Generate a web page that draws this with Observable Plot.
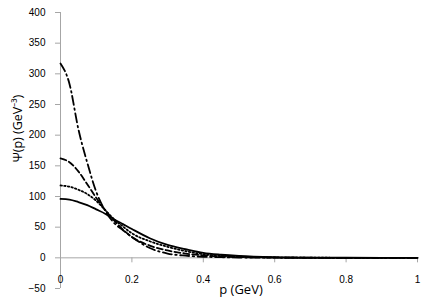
<!DOCTYPE html>
<html>
<head>
<meta charset="utf-8">
<script src="https://cdn.jsdelivr.net/npm/d3@7"></script>
<script src="https://cdn.jsdelivr.net/npm/@observablehq/plot@0.6"></script>
<style>
  html, body { margin: 0; padding: 0; background: #fff; }
  #chart svg { display: block; }
</style>
</head>
<body>
<div id="chart"></div>
<script>
const p = [0, 0.025, 0.05, 0.075, 0.1, 0.125, 0.15, 0.175, 0.2, 0.25, 0.3, 0.35, 0.4, 0.45, 0.5, 0.6, 0.7, 0.8, 0.9, 1.0];
const solid   = [96, 95, 91, 86, 79, 72, 63, 55, 47, 32, 21, 14, 8, 5, 3, 1, 0.3, 0.1, 0, 0];
const dotted  = [118, 116, 111, 104, 93, 78, 63, 51, 40, 27, 18, 11, 6, 3.5, 2, 0.6, 0.2, 0.05, 0, 0];
const dashed  = [162, 156, 141, 120, 98, 78, 61, 46, 34, 20, 12, 7, 4, 2, 1.2, 0.4, 0.1, 0, 0, 0];
const dashdot = [317, 284, 210, 155, 108, 77, 57, 45, 34, 16, 7, 3.5, 1.8, 1, 0.5, 0.2, 0.05, 0, 0, 0];

const seriesNames = ["solid", "dotted", "dashed", "dashdot"];
const seriesValues = [solid, dotted, dashed, dashdot];
const dashes = {solid: null, dotted: "1.5,2.2", dashed: "6,3", dashdot: "9,3.5,1.5,3.5"};

const xTicks = [0, 0.2, 0.4, 0.6, 0.8, 1];
const xTickLabels = ["0", "0.2", "0.4", "0.6", "0.8", "1"];
const yTicks = [-50, 0, 50, 100, 150, 200, 250, 300, 350, 400];

const xLabel = "p (GeV)";
const yLabel = "Ψ(p) (GeV⁻³)";

const font = "'Liberation Sans', Arial, sans-serif";
const titleFont = "'Open Sans', 'Liberation Sans', sans-serif";
const gray = "#a6a6a6";

const rows = [];
seriesNames.forEach((name, k) => {
  p.forEach((x, i) => rows.push({series: name, p: x, v: seriesValues[k][i]}));
});

const chart = Plot.plot({
  width: 433,
  height: 300,
  marginLeft: 60,
  marginRight: 16,
  marginTop: 12,
  marginBottom: 12,
  style: {fontFamily: font, fontSize: "10px", color: "#000", background: "#fff"},
  x: {domain: [0, 1], axis: null},
  y: {domain: [-50, 400], axis: null},
  marks: [
    // y axis line and ticks
    Plot.ruleX([0], {stroke: gray, strokeWidth: 1}),
    Plot.ruleY(yTicks, {y: d => d, x1: 0, x2: 0, insetLeft: -5, stroke: gray}),
    Plot.axisY({ticks: yTicks, tickSize: 0, tickPadding: 15, label: null, fontSize: 10}),
    // x axis line at zero, ticks and labels
    Plot.ruleY([0], {stroke: gray, strokeWidth: 1}),
    Plot.ruleX(xTicks, {x: d => d, y1: 0, y2: 0, insetBottom: -5, stroke: gray}),
    Plot.text(xTicks, {x: d => d, y: 0, dy: 22, text: (d, i) => xTickLabels[i], fontSize: 10, fill: "#000"}),
    // curves
    ...seriesNames.map(name =>
      Plot.line(rows.filter(r => r.series === name), {
        x: "p", y: "v", stroke: "#000", strokeWidth: 1.8,
        strokeDasharray: dashes[name], curve: "monotone-x"
      })
    ),
    // axis titles
    Plot.text([xLabel], {frameAnchor: "bottom", dx: 2, dy: 1, lineAnchor: "middle", fontSize: 13, fill: "#000", fontFamily: titleFont}),
    Plot.text([yLabel], {frameAnchor: "left", rotate: -90, dx: -43, dy: -22, lineAnchor: "middle", textAnchor: "middle", fontSize: 12.5, fill: "#000", fontFamily: titleFont})
  ]
});
document.getElementById("chart").appendChild(chart);
</script>
</body>
</html>
